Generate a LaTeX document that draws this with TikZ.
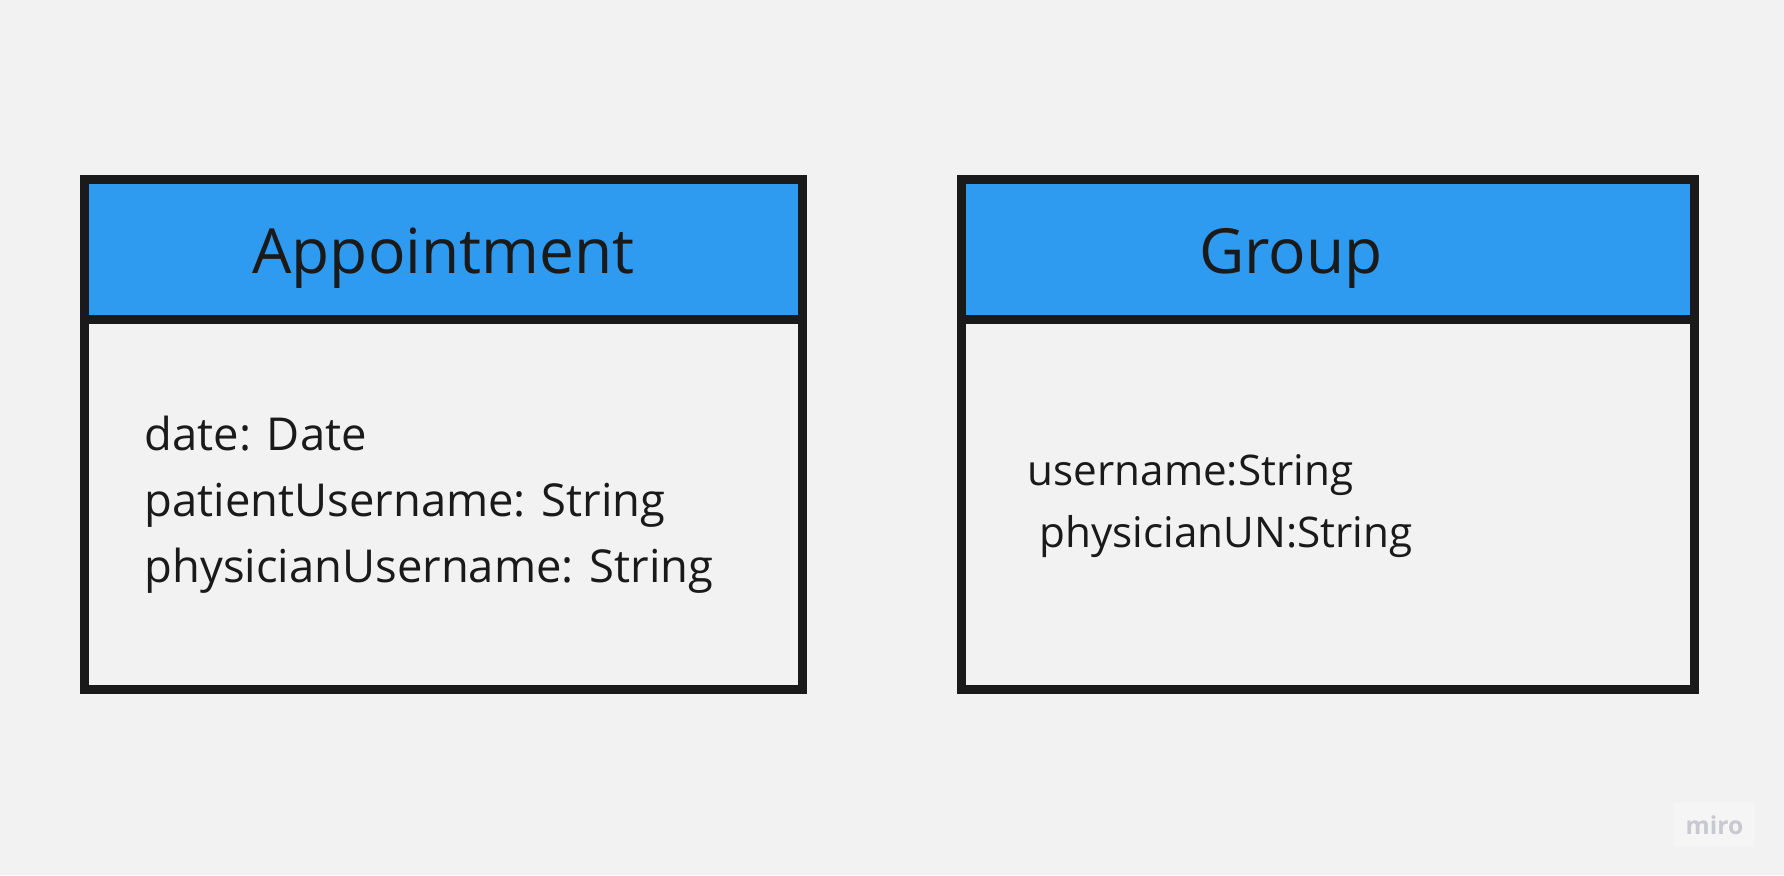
\documentclass[tikz,border=0pt]{standalone}
\usepackage{fontspec}
\setmainfont{Open Sans}
\definecolor{bgcol}{HTML}{F2F2F2}
\definecolor{headcol}{HTML}{2E9AF0}
\definecolor{linecol}{HTML}{1A1A1A}
\definecolor{logocol}{HTML}{C8C8D0}
\tikzset{
  frame/.style={line width=0.09cm, draw=linecol},
  titletext/.style={anchor=base, inner sep=0pt, text=linecol, font=\fontsize{17.7}{21}\selectfont},
  fieldtext/.style={anchor=base west, inner sep=0pt, text=linecol, font=\fontsize{12.9}{15}\selectfont},
  smallfield/.style={fieldtext, font=\fontsize{12}{14}\selectfont}
}
\begin{document}
\begin{tikzpicture}[x=0.01cm, y=-0.01cm]
  % Background
  \fill [bgcol] (0,0) rectangle (1784,875);%
  \useasboundingbox (0,0) rectangle (1784,875);%

  % Drawing class Appointment
  \fill [headcol] (84.5,179.5) rectangle (802.5,319.5);%
  \draw [frame] (84.5,179.5) rectangle (802.5,689.5);%
  \draw [frame] (84.5,319.5) -- (802.5,319.5);%
  \node [titletext] (appTitle) at (443.5,273) {Appointment};%
  \node [fieldtext] (appDate) at (144,450) {date: Date};%
  \node [fieldtext] (appPatient) at (144,516) {patientUsername: String};%
  \node [fieldtext] (appPhysician) at (144,582) {physicianUsername: String};%

  % Drawing class Group
  \fill [headcol] (961.5,179.5) rectangle (1694.5,319.5);%
  \draw [frame] (961.5,179.5) rectangle (1694.5,689.5);%
  \draw [frame] (961.5,319.5) -- (1694.5,319.5);%
  \node [titletext] (grpTitle) at (1291,273) {Group};%
  \node [smallfield] (grpUser) at (1027,485) {username:String};%
  \node [smallfield] (grpPhysician) at (1039,547) {physicianUN:String};%

  % Marking logo
  \fill [white, opacity=0.25] (1674,803) rectangle (1755,847);%
  \node [anchor=center, inner sep=0pt, text=logocol, font=\fontsize{7}{8}\selectfont\bfseries] (logo) at (1714.5,825) {miro};%
\end{tikzpicture}
\end{document}
